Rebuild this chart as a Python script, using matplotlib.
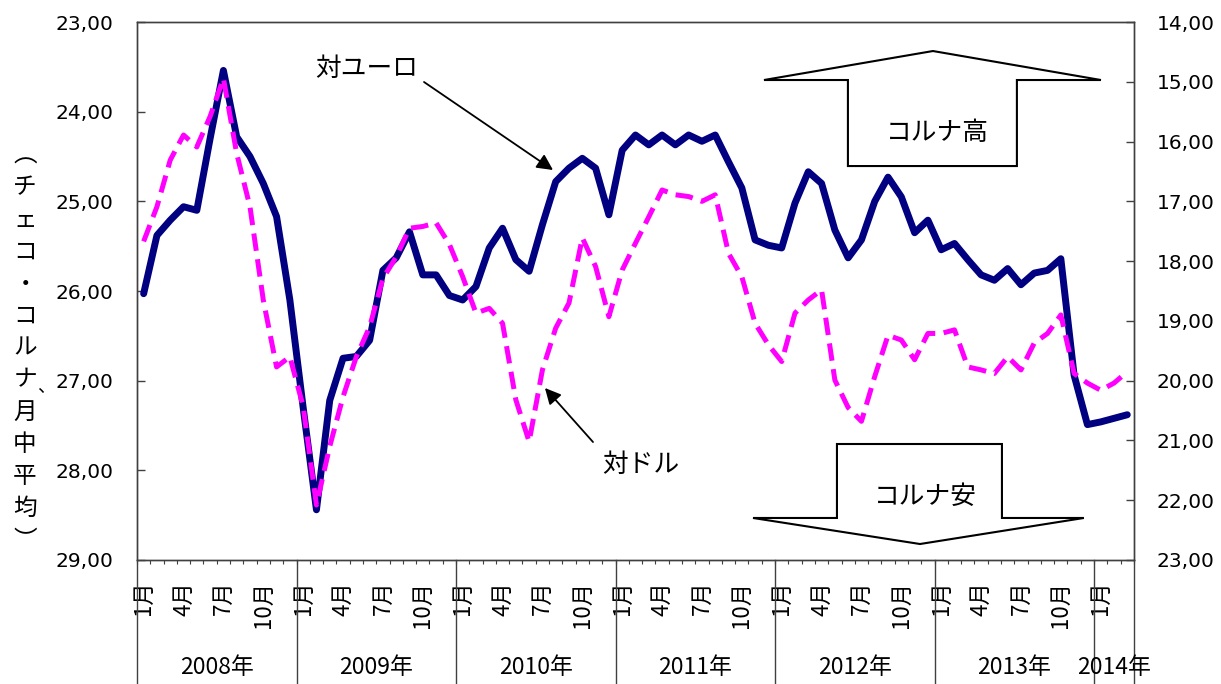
import numpy as np
import matplotlib
matplotlib.use('Agg')
import matplotlib.pyplot as plt
from matplotlib.patches import Polygon
from matplotlib.ticker import FuncFormatter

plt.rcParams['font.family'] = ['DejaVu Sans', 'Noto Sans CJK JP']
JP = ['Noto Sans CJK JP', 'DejaVu Sans']

# monthly averages, Jan 2008 - Mar 2014
years = ['2008年', '2009年', '2010年', '2011年', '2012年', '2013年', '2014年']
months_in_year = [12, 12, 12, 12, 12, 12, 3]
month_names = ['1月', '4月', '7月', '10月']

eur = [26.03, 25.38, 25.21, 25.06, 25.10, 24.30, 23.54, 24.28, 24.50, 24.80, 25.17, 26.10,
       27.30, 28.44, 27.22, 26.75, 26.73, 26.55, 25.77, 25.63, 25.34, 25.82, 25.82, 26.05,
       26.10, 25.95, 25.52, 25.30, 25.65, 25.78, 25.26, 24.78, 24.63, 24.52, 24.63, 25.15,
       24.43, 24.26, 24.37, 24.26, 24.37, 24.26, 24.33, 24.26, 24.56, 24.85, 25.43, 25.49,
       25.52, 25.02, 24.67, 24.80, 25.32, 25.63, 25.43, 25.00, 24.73, 24.95, 25.35, 25.21,
       25.54, 25.47, 25.65, 25.82, 25.88, 25.75, 25.93, 25.80, 25.77, 25.64, 26.94, 27.49,
       27.46, 27.42, 27.38]
usd = [17.67, 17.09, 16.31, 15.89, 16.09, 15.58, 14.94, 16.20, 17.09, 18.65, 19.77, 19.60,
       20.43, 22.08, 21.10, 20.27, 19.60, 19.10, 18.29, 17.93, 17.45, 17.42, 17.36, 17.72,
       18.26, 18.87, 18.79, 19.04, 20.32, 21.02, 19.82, 19.12, 18.70, 17.61, 18.09, 18.93,
       18.15, 17.70, 17.26, 16.81, 16.89, 16.92, 17.00, 16.89, 17.87, 18.26, 19.04, 19.40,
       19.68, 18.87, 18.65, 18.48, 19.99, 20.45, 20.68, 19.93, 19.24, 19.32, 19.65, 19.21,
       19.21, 19.15, 19.77, 19.82, 19.88, 19.60, 19.82, 19.37, 19.21, 18.90, 19.88, 20.04,
       20.16, 20.04, 19.85]

n = len(eur)
x = np.arange(n)

fig = plt.figure(figsize=(12.21, 6.84), dpi=100)
ax = fig.add_axes([0.1122, 0.1813, 0.8165, 0.7865])
ax2 = ax.twinx()

ax.plot(x, eur, color='#000080', lw=5, solid_joinstyle='round', solid_capstyle='round')
ax2.plot(x, usd, color='#FF00FF', lw=3.6, dashes=(3.5, 1.7))

ax.set_xlim(-0.5, n - 0.5)
ax.set_ylim(29, 23)
ax2.set_ylim(23, 14)
ax.set_yticks(np.arange(23, 30, 1))
ax2.set_yticks(np.arange(14, 24, 1))
fmt = FuncFormatter(lambda v, p: ('%.2f' % v).replace('.', ','))
ax.yaxis.set_major_formatter(fmt)
ax2.yaxis.set_major_formatter(fmt)
ax.tick_params(axis='y', direction='in', length=6, width=1, color='#404040',
               labelsize=14.5, pad=17)
ax2.tick_params(axis='y', direction='in', length=6, width=1, color='#404040',
                labelsize=14.5, pad=16.5)
for a in (ax, ax2):
    for s in a.spines.values():
        s.set_color('#404040')
        s.set_linewidth(1)

# month labels and year groups on x axis
tick_pos = []
tick_lab = []
start = 0
bounds = [-0.5]
for yr, cnt in zip(years, months_in_year):
    for k, m in enumerate(month_names):
        if k * 3 < cnt:
            tick_pos.append(start + k * 3)
            tick_lab.append(m)
    start += cnt
    bounds.append(start - 0.5)
ax.set_xticks(tick_pos)
ax.set_xticklabels(tick_lab, rotation=90, va='top', ha='center', family=JP, fontsize=16)
ax.tick_params(axis='x', which='major', length=0, pad=15)
ax.set_xticks(np.arange(-0.5, n, 1), minor=True)
ax.tick_params(axis='x', which='minor', direction='out', length=3, width=0.8, color='#404040')

trans = ax.get_xaxis_transform()
for b in bounds:
    ax.plot([b, b], [0, -0.235], transform=trans, color='#404040', lw=1, clip_on=False)
for i, yr in enumerate(years):
    c = (bounds[i] + bounds[i + 1]) / 2
    ax.text(c, -0.199, yr, transform=trans, ha='center', va='center', fontsize=16.5, family=JP)

# y axis title, written vertically
ylab = ['︵', 'チ', 'ェ', 'コ', '・', 'コ', 'ル', 'ナ', '月', '中', '平', '均', '︶']
ypos = np.linspace(0.772, 0.21, len(ylab))
for ch, yy in zip(ylab, ypos):
    fig.text(0.0205, yy, ch, ha='center', va='center', fontsize=17, family=JP)
fig.text(0.0205 + 0.017, ypos[7] - 0.01, '、', ha='center', va='center', fontsize=13, family=JP)

# annotations
ax2.text(0.2307, 0.9132, '対ユーロ', transform=ax2.transAxes, ha='center', va='center',
         fontsize=18.5, family=JP)
ax2.annotate('', xy=(0.4173, 0.7249), xytext=(0.2879, 0.8885), xycoords='axes fraction',
             arrowprops=dict(arrowstyle='-|>', color='k', lw=1.3, mutation_scale=24,
                             shrinkA=0, shrinkB=0))
ax2.text(0.5055, 0.1766, '対ドル', transform=ax2.transAxes, ha='center', va='center',
         fontsize=18.5, family=JP)
ax2.annotate('', xy=(0.4092, 0.3197), xytext=(0.4574, 0.2193), xycoords='axes fraction',
             arrowprops=dict(arrowstyle='-|>', color='k', lw=1.3, mutation_scale=24,
                             shrinkA=0, shrinkB=0))

up = [(0.7131, 0.7323), (0.7131, 0.8922), (0.6289, 0.8922), (0.7984, 0.9461),
      (0.9669, 0.8922), (0.8826, 0.8922), (0.8826, 0.7323)]
down = [(0.7021, 0.2156), (0.7021, 0.0781), (0.6179, 0.0781), (0.7854, 0.0297),
        (0.9498, 0.0781), (0.8676, 0.0781), (0.8676, 0.2156)]
for pts in (up, down):
    ax2.add_patch(Polygon(pts, closed=True, transform=ax2.transAxes, facecolor='white',
                          edgecolor='black', lw=1.5, zorder=5))
ax2.text(0.8024, 0.7937, 'コルナ高', transform=ax2.transAxes, ha='center', va='center',
         fontsize=18.5, family=JP, zorder=6)
ax2.text(0.7904, 0.1171, 'コルナ安', transform=ax2.transAxes, ha='center', va='center',
         fontsize=18.5, family=JP, zorder=6)

fig.savefig('out.png', dpi=100)
